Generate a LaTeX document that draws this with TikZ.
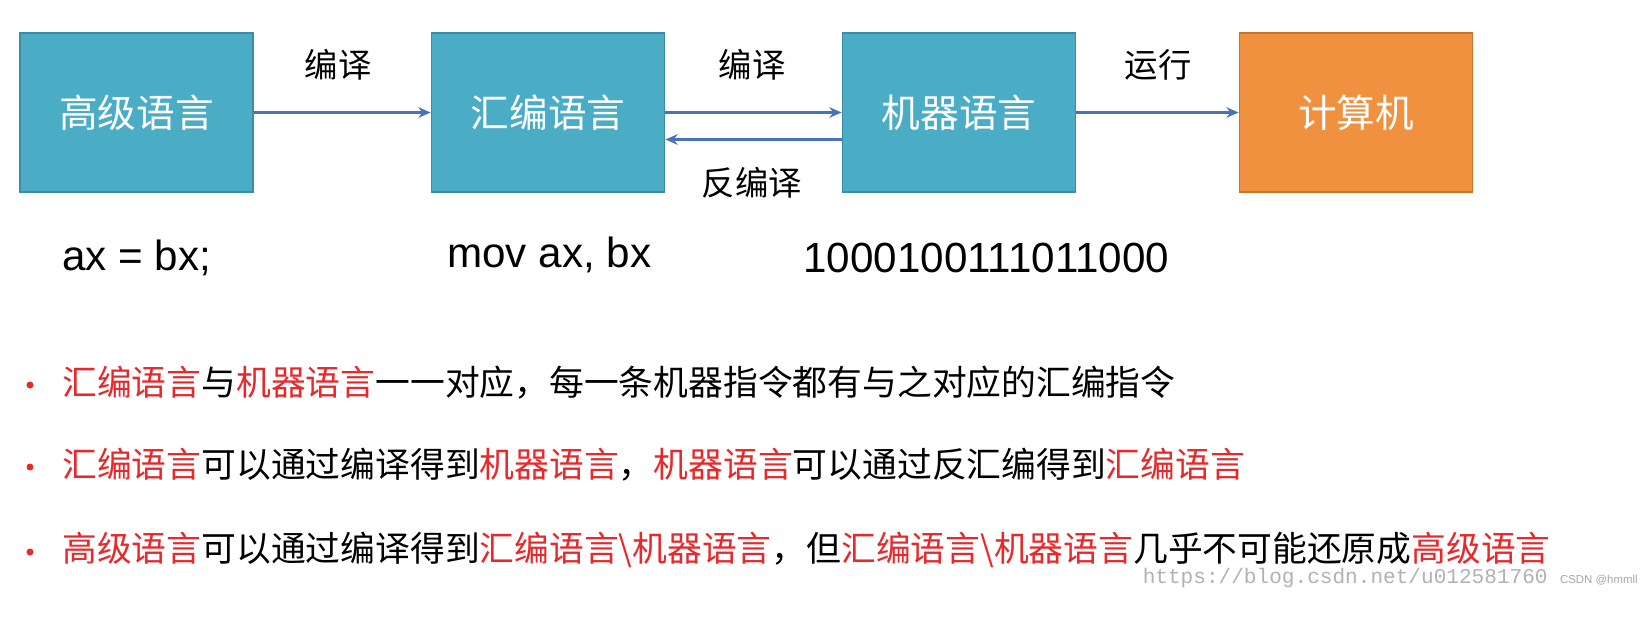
\documentclass[tikz,border=0pt]{standalone}
\usepackage{fontspec}
\setmainfont{Liberation Sans}
\newfontfamily\cjk{Noto Sans CJK SC}
\newfontfamily\monof{Liberation Mono}
\usetikzlibrary{arrows.meta}
\definecolor{bluefill}{HTML}{4BACC6}
\definecolor{blueedge}{HTML}{3A8DA6}
\definecolor{orfill}{HTML}{F0913F}
\definecolor{oredge}{HTML}{C8742C}
\definecolor{kred}{HTML}{E8282A}
\definecolor{arr}{HTML}{4A72B8}
\newcommand{\hl}[1]{\textcolor{kred}{#1}}
\tikzset{
  box/.style={draw=blueedge, line width=1pt, fill=bluefill, minimum width=4.66cm, minimum height=3.18cm, text=white, font=\cjk\fontsize{22}{26}\selectfont},
  obox/.style={box, draw=oredge, fill=orfill},
  conn/.style={draw=arr, line width=1.4pt, -{Stealth[length=7pt,width=6pt]}},
  lab/.style={font=\cjk\fontsize{19}{22}\selectfont},
  code/.style={font=\fontsize{24}{28}\selectfont, anchor=west, inner sep=0pt},
  bul/.style={font=\cjk\fontsize{19.8}{23}\selectfont, anchor=west, inner sep=0pt},
}
\begin{document}
\begin{tikzpicture}[x=0.02cm,y=-0.02cm]
\fill[white] (0,0) rectangle (1642,620);
\node[box] (hl) at (136.5,112.5) {高级语言};
\node[box] (asm) at (548,112.5) {汇编语言};
\node[box] (mc) at (959,112.5) {机器语言};
\node[obox] (pc) at (1356,112.5) {计算机};
\draw[conn] (hl.east) -- (asm.west);
\draw[conn] (asm.east) -- (mc.west);
\draw[conn] ([yshift=-0.54cm]mc.west) -- ([yshift=-0.54cm]asm.east);
\draw[conn] (mc.east) -- (pc.west);
\node[lab] (l1) at (338,65) {编译};
\node[lab] (l2) at (752,65) {编译};
\node[lab] (l3) at (1158,65) {运行};
\node[lab] (l4) at (752,183) {反编译};
\node[code] (c1) at (62,258) {ax = bx;};
\node[code] (c2) at (447,255) {mov ax, bx};
\node[code] (c3) at (803,258) {1000100111011000};
\foreach \y/\n in {385/b1,467/b2,552/b3} \fill[kred] (30,\y) circle (3.5);
\node[bul] (t1) at (62,383) {\hl{汇编语言}与\hl{机器语言}一一对应，每一条机器指令都有与之对应的汇编指令};
\node[bul] (t2) at (62,465) {\hl{汇编语言}可以通过编译得到\hl{机器语言}，\hl{机器语言}可以通过反汇编得到\hl{汇编语言}};
\node[bul] (t3) at (62,550) {\hl{高级语言}可以通过编译得到\hl{汇编语言\textbackslash 机器语言}，但\hl{汇编语言\textbackslash 机器语言}几乎不可能还原成\hl{高级语言}};
\node[anchor=east, text=gray!60, font=\monof\fontsize{12}{14}\selectfont, inner sep=0pt] (wm) at (1548,578) {https://blog.csdn.net/u012581760};
\node[anchor=east, text=gray!70, font=\fontsize{6.5}{8}\selectfont, inner sep=0pt] (wm2) at (1638,580) {CSDN @hmmll};
\pgfresetboundingbox
\path[use as bounding box] (0,0) rectangle (1642,620);
\end{tikzpicture}
\end{document}
